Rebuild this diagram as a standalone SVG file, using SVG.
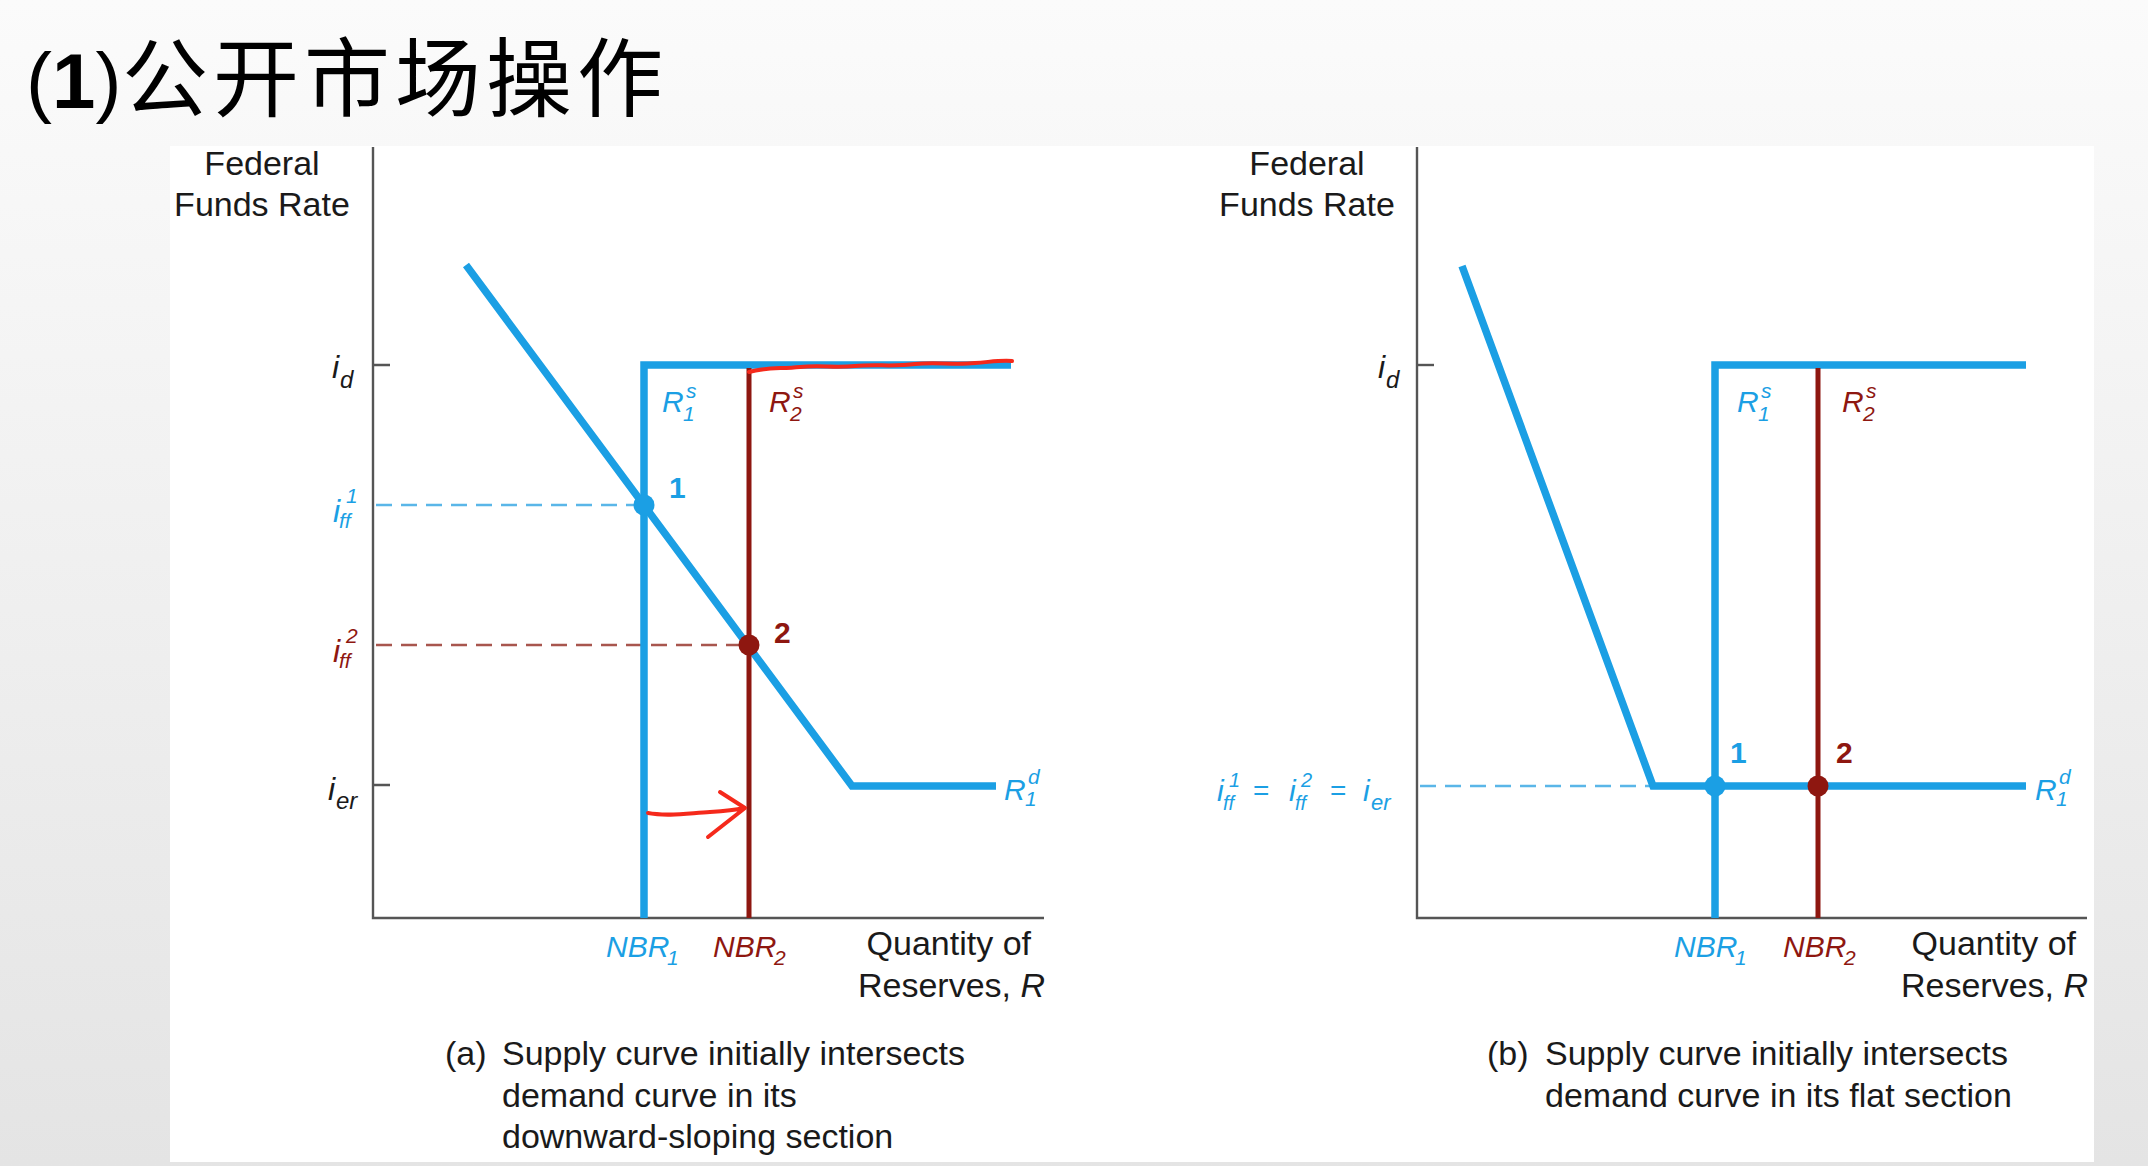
<svg xmlns="http://www.w3.org/2000/svg" width="2148" height="1166" viewBox="0 0 2148 1166">
<defs>
<linearGradient id="bg" x1="0" y1="0" x2="0" y2="1">
<stop offset="0" stop-color="#fbfbfb"/>
<stop offset="1" stop-color="#e4e4e4"/>
</linearGradient>
<style>
.t{font-family:"Liberation Sans",Arial,sans-serif;font-size:34px;fill:#1a1a1a}
.it{font-family:"Liberation Sans",Arial,sans-serif;font-style:italic}
.ax{stroke:#555;stroke-width:2.4;fill:none}
.blue{stroke:#1b9fe4;stroke-width:7.5;fill:none;stroke-linejoin:miter}
.dred{stroke:#8e1710;stroke-width:5;fill:none}
.dashb{stroke:#5ab6e8;stroke-width:2.4;stroke-dasharray:16 9;fill:none}
.dashr{stroke:#a8564e;stroke-width:2.4;stroke-dasharray:16 9;fill:none}
.mark{stroke:#f5291b;stroke-width:4;fill:none;stroke-linecap:round;stroke-linejoin:round}
.fb{fill:#1b9fe4}
.fr{fill:#8e1710}
.num{font-family:"Liberation Sans",Arial,sans-serif;font-weight:bold;font-size:30px}
</style>
</defs>
<rect width="2148" height="1166" fill="url(#bg)"/>
<rect x="170" y="146" width="1924" height="1016" fill="#ffffff"/>

<g id="title">
<text x="26" y="108" font-family="Liberation Sans,Arial,sans-serif" font-size="78" fill="#000">(<tspan font-weight="bold">1</tspan>)</text>
<text x="122" y="110" font-family="Noto Sans CJK SC,sans-serif" font-size="86" letter-spacing="5" fill="#000">公开市场操作</text>
</g>

<g id="chart-a">
<g id="a-axes">
<path class="ax" d="M373,147 V918 H1044"/>
<path class="ax" d="M373,365 H390 M373,785 H390"/>
</g>
<g id="connectors-a">
<path class="dashb" d="M376,505 H644"/>
<path class="dashr" d="M376,645 H749"/>
<path class="blue" d="M466,265 L852,786 H996"/>
<path class="blue" d="M644,918 V365 H1011"/>
<path class="dred" d="M749,918 V368"/>
<path class="mark" d="M749,372 C765,367 780,369 800,367 C820,365 835,368 855,366 C875,364 895,367 915,364 C935,362 955,365 975,363 C990,362 1000,360 1012,361"/>
<path class="mark" d="M648,813 C668,817 690,813 710,812 C725,811 735,810 744,808 M720,792 L745,808 L708,837"/>
</g>
<g id="a-point1"><circle cx="644" cy="505" r="10.5" class="fb"/><text x="669" y="498" class="num fb">1</text></g>
<g id="a-point2"><circle cx="749" cy="645" r="10.5" class="fr"/><text x="774" y="643" class="num fr">2</text></g>
<g id="a-labels">
<text x="262" y="175" class="t" text-anchor="middle">Federal</text>
<text x="262" y="216" class="t" text-anchor="middle">Funds Rate</text>
<text x="332" y="378" class="it" font-size="32" fill="#1a1a1a">i</text><text x="340" y="388" class="it" font-size="24" fill="#1a1a1a">d</text>
<text x="333" y="522" class="it fb" font-size="32">i</text><text x="346" y="503" class="it fb" font-size="21">1</text><text x="339" y="528" class="it fb" font-size="21">ff</text>
<text x="333" y="662" class="it fr" font-size="32">i</text><text x="346" y="643" class="it fr" font-size="21">2</text><text x="339" y="668" class="it fr" font-size="21">ff</text>
<text x="328" y="800" class="it" font-size="32" fill="#1a1a1a">i</text><text x="336" y="809" class="it" font-size="24" fill="#1a1a1a">er</text>
<text x="662" y="412" class="it fb" font-size="30">R</text><text x="686" y="398" class="it fb" font-size="21">s</text><text x="683" y="421" class="it fb" font-size="21">1</text>
<text x="769" y="412" class="it fr" font-size="30">R</text><text x="793" y="398" class="it fr" font-size="21">s</text><text x="790" y="421" class="it fr" font-size="21">2</text>
<text x="1004" y="800" class="it fb" font-size="30">R</text><text x="1028" y="784" class="it fb" font-size="21">d</text><text x="1025" y="806" class="it fb" font-size="21">1</text>
<text x="606" y="957" class="it fb" font-size="30">NBR</text><text x="667" y="965" class="it fb" font-size="21">1</text>
<text x="713" y="957" class="it fr" font-size="30">NBR</text><text x="774" y="965" class="it fr" font-size="21">2</text>
<text x="1031" y="955" class="t" text-anchor="end">Quantity of</text>
<text x="1045" y="997" class="t" text-anchor="end">Reserves, <tspan font-style="italic">R</tspan></text>
<text x="445" y="1065" class="t">(a)</text>
<text x="502" y="1065" class="t">Supply curve initially intersects</text>
<text x="502" y="1107" class="t">demand curve in its</text>
<text x="502" y="1148" class="t">downward-sloping section</text>
</g>
</g>

<g id="chart-b">
<g id="b-axes">
<path class="ax" d="M1417,147 V918 H2087"/>
<path class="ax" d="M1417,365 H1434"/>
</g>
<g id="connectors-b">
<path class="dashb" d="M1420,786 H1653"/>
<path class="blue" d="M1462,266 L1653,786 H2026"/>
<path class="blue" d="M1715,918 V365 H2026"/>
<path class="dred" d="M1818,918 V368"/>
</g>
<g id="b-point1"><circle cx="1715" cy="786" r="10.5" class="fb"/><text x="1730" y="763" class="num fb">1</text></g>
<g id="b-point2"><circle cx="1818" cy="786" r="10.5" class="fr"/><text x="1836" y="763" class="num fr">2</text></g>
<g id="b-labels">
<text x="1307" y="175" class="t" text-anchor="middle">Federal</text>
<text x="1307" y="216" class="t" text-anchor="middle">Funds Rate</text>
<text x="1378" y="378" class="it" font-size="32" fill="#1a1a1a">i</text><text x="1386" y="388" class="it" font-size="24" fill="#1a1a1a">d</text>
<g class="fb">
<text x="1217" y="801" class="it" font-size="30">i</text><text x="1229" y="787" class="it" font-size="20">1</text><text x="1223" y="810" class="it" font-size="20">ff</text>
<text x="1253" y="800" font-family="Liberation Sans,Arial,sans-serif" font-size="28">=</text>
<text x="1289" y="801" class="it" font-size="30">i</text><text x="1301" y="787" class="it" font-size="20">2</text><text x="1295" y="810" class="it" font-size="20">ff</text>
<text x="1330" y="800" font-family="Liberation Sans,Arial,sans-serif" font-size="28">=</text>
<text x="1363" y="801" class="it" font-size="30">i</text><text x="1371" y="810" class="it" font-size="22">er</text>
</g>
<text x="1737" y="412" class="it fb" font-size="30">R</text><text x="1761" y="398" class="it fb" font-size="21">s</text><text x="1758" y="421" class="it fb" font-size="21">1</text>
<text x="1842" y="412" class="it fr" font-size="30">R</text><text x="1866" y="398" class="it fr" font-size="21">s</text><text x="1863" y="421" class="it fr" font-size="21">2</text>
<text x="2035" y="800" class="it fb" font-size="30">R</text><text x="2059" y="784" class="it fb" font-size="21">d</text><text x="2056" y="806" class="it fb" font-size="21">1</text>
<text x="1674" y="957" class="it fb" font-size="30">NBR</text><text x="1735" y="965" class="it fb" font-size="21">1</text>
<text x="1783" y="957" class="it fr" font-size="30">NBR</text><text x="1844" y="965" class="it fr" font-size="21">2</text>
<text x="2076" y="955" class="t" text-anchor="end">Quantity of</text>
<text x="2088" y="997" class="t" text-anchor="end">Reserves, <tspan font-style="italic">R</tspan></text>
<text x="1487" y="1065" class="t">(b)</text>
<text x="1545" y="1065" class="t">Supply curve initially intersects</text>
<text x="1545" y="1107" class="t">demand curve in its flat section</text>
</g>
</g>
</svg>
